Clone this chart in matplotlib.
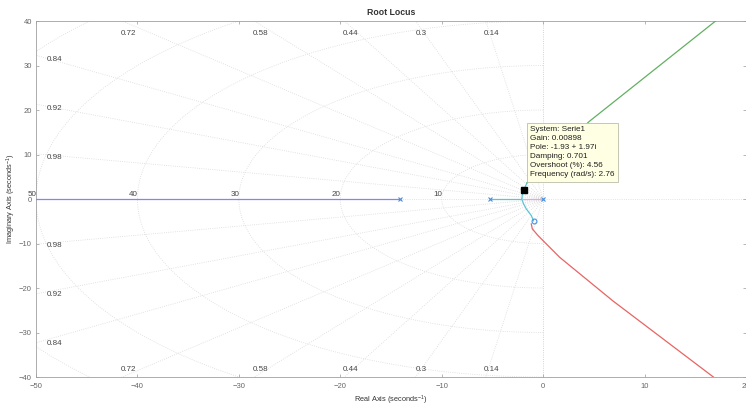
import numpy as np
import matplotlib
matplotlib.use('Agg')
import matplotlib.pyplot as plt

plt.rcParams['font.family'] = ['Liberation Sans', 'DejaVu Sans']
plt.rcParams['mathtext.default'] = 'regular'

# root locus branches (real part, imaginary part)
blue_re = [-60.0, -14.1]
blue_im = [0.0, 0.0]
cyan_re = [-5.2, -2.1]
cyan_im = [0.0, 0.0]
cyan_lo_re = [-2.1, -1.95, -1.67, -1.17, -0.95]
cyan_lo_im = [0.0, -1.0, -2.2, -3.7, -4.9]
cyan_up_re = [-2.1, -2.05, -1.93, -1.6]
cyan_up_im = [0.0, 1.0, 1.97, 3.6]
pink_re = [0.0, -2.1]
pink_im = [0.0, 0.0]
green_re = [-1.6, -0.6, 1.2, 4.58, 17.0, 22.0]
green_im = [3.6, 6.2, 10.5, 17.5, 40.0, 49.0]
red_re = [-1.17, -1.07, -0.51, 1.63, 6.88, 16.9, 20.0]
red_im = [-5.6, -6.7, -8.2, -13.1, -22.9, -40.2, -46.0]

pole_re = [-14.1, -5.2, 0.0]
pole_im = [0.0, 0.0, 0.0]
zero_re = [-0.95]
zero_im = [-5.0]

tip_re = -1.93
tip_im = 1.97
tip_lines = ['System: Serie1', 'Gain: 0.00898', 'Pole: -1.93 + 1.97i',
             'Damping: 0.701', 'Overshoot (%): 4.56', 'Frequency (rad/s): 2.76']

# sgrid values
damping = [0.14, 0.3, 0.44, 0.58, 0.72, 0.84, 0.92, 0.98]
wn = [10, 20, 30, 40, 50, 60]

xticks = [-50, -40, -30, -20, -10, 0, 10, 20]
yticks = [-40, -30, -20, -10, 0, 10, 20, 30, 40]

fig = plt.figure(figsize=(7.46, 4.09), dpi=100)
ax = fig.add_axes([0.0483, 0.0782, 0.9517, 0.8704])

grid_c = '#d9d9d9'
lab_c = '#454545'

# damping lines
for z in damping:
    w = np.sqrt(1 - z**2)
    ax.plot([0, -100 * z], [0, 100 * w], ls=':', color=grid_c, lw=0.6, zorder=1)
    ax.plot([0, -100 * z], [0, -100 * w], ls=':', color=grid_c, lw=0.6, zorder=1)
    s = w / z
    xt = -40 / s
    if xt >= -48:
        ax.text(xt + 0.6, 37.3, str(z), fontsize=5.8, color=lab_c, ha='center', va='center')
        ax.text(xt + 0.6, -38.2, str(z), fontsize=5.8, color=lab_c, ha='center', va='center')
    else:
        ax.text(-48.9, 50 * s - 0.9, str(z), fontsize=5.8, color=lab_c, ha='left', va='center')
        ax.text(-48.9, -50 * s - 0.2, str(z), fontsize=5.8, color=lab_c, ha='left', va='center')

# natural frequency semicircles
th = np.linspace(np.pi / 2, 3 * np.pi / 2, 300)
for r in wn:
    ax.plot(r * np.cos(th), r * np.sin(th), ls=':', color=grid_c, lw=0.6, zorder=1)
    if r <= 50:
        ax.text(-r - 0.4, 0.3, str(r), fontsize=5.8, color=lab_c, ha='center', va='bottom')

ax.axhline(0, ls=':', color=grid_c, lw=0.6, zorder=1)
ax.axvline(0, ls=':', color='#c4c4c4', lw=0.6, zorder=1)

# branches
ax.plot(blue_re, blue_im, color='#8484f2', lw=0.9, zorder=3)
ax.plot(cyan_re, cyan_im, color='#5cc4d4', lw=0.9, zorder=3)
ax.plot(cyan_lo_re, cyan_lo_im, color='#5cc4d4', lw=0.9, zorder=3)
ax.plot(cyan_up_re, cyan_up_im, color='#5cc4d4', lw=0.9, zorder=3)
ax.plot(pink_re, pink_im, color='#e4a4ec', lw=0.9, zorder=3)
ax.plot(green_re, green_im, color='#62b062', lw=0.9, zorder=3)
ax.plot(red_re, red_im, color='#e86464', lw=0.9, zorder=3)

ax.plot(pole_re, pole_im, 'x', color='#4a8fd8', ms=3.5, mew=0.8, zorder=4)
ax.plot(zero_re, zero_im, 'o', mfc='none', mec='#4a8fd8', ms=3.5, mew=0.8, zorder=4)
ax.plot([tip_re], [tip_im], 's', color='black', ms=4.2, zorder=6)

ax.text(-1.25, 16.3, '\n'.join(tip_lines), fontsize=5.9, ha='left', va='top',
        linespacing=1.4, color='#202020', zorder=7,
        bbox=dict(boxstyle='square,pad=0.4', fc='#ffffe4', ec='#bdbdaa', lw=0.6))

ax.set_xlim(-50, 20)
ax.set_ylim(-40, 40)
ax.set_xticks(xticks)
ax.set_yticks(yticks)
ax.tick_params(direction='in', top=True, right=True, length=2.5, width=0.5,
               colors='#999999', labelcolor='#666666', labelsize=5.5, pad=3)
ax.tick_params(axis='x', pad=4)
for sp in ax.spines.values():
    sp.set_color('#a0a0a0')
    sp.set_linewidth(0.6)

ax.set_title('Root Locus', fontsize=6.3, fontweight='bold', color='#333333', pad=4)
ax.set_xlabel('Real Axis (seconds$^{-1}$)', fontsize=5.3, color='#333333', labelpad=3)
ax.set_ylabel('Imaginary Axis (seconds$^{-1}$)', fontsize=5.3, color='#333333', labelpad=0.5)

fig.savefig('out.png', dpi=100)
